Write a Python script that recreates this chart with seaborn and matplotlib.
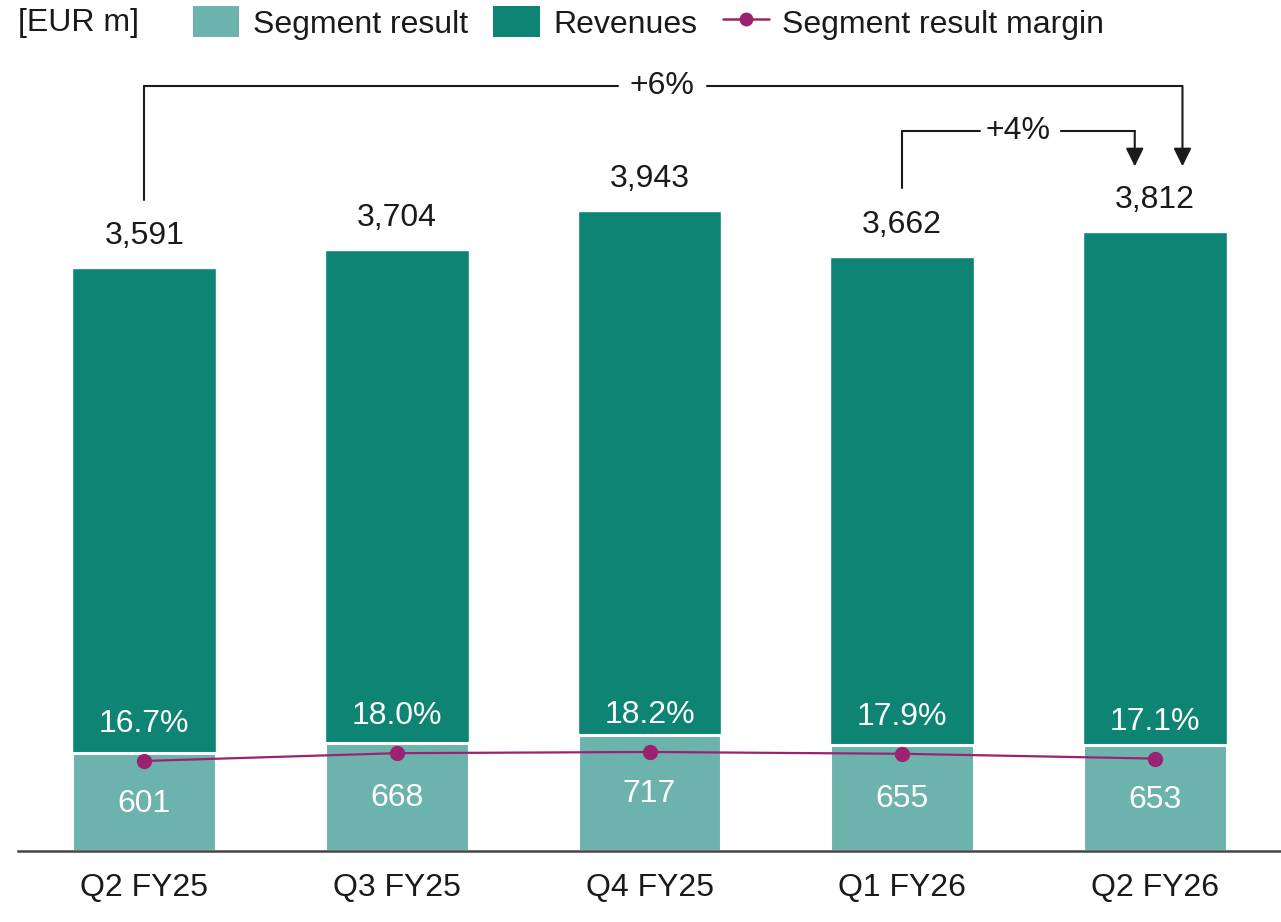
import numpy as np
import matplotlib
matplotlib.use("Agg")
import matplotlib.pyplot as plt
import seaborn as sns
from matplotlib.patches import Patch
from matplotlib.lines import Line2D

quarters = ["Q2 FY25", "Q3 FY25", "Q4 FY25", "Q1 FY26", "Q2 FY26"]
revenues = [3591, 3704, 3943, 3662, 3812]
segment_result = [601, 668, 717, 655, 653]
margin = [16.7, 18.0, 18.2, 17.9, 17.1]

C_REV = "#0e8475"
C_SEG = "#6db3ad"
C_MAR = "#9b2270"
C_TXT = "#1a1a1a"

sns.set_style("white")
plt.rcParams["font.family"] = ["Liberation Sans", "DejaVu Sans"]
FS = 23

fig = plt.figure(figsize=(12.81, 9.22), dpi=100)
ax = fig.add_axes([18 / 1281, 71 / 922, 1263 / 1281, 791 / 922])

x = np.arange(len(quarters))
sns.barplot(x=x, y=revenues, color=C_REV, saturation=1, width=0.57, ax=ax, native_scale=True)
sns.barplot(x=x, y=segment_result, color=C_SEG, saturation=1, width=0.57, ax=ax,
            native_scale=True, edgecolor="white", linewidth=2.2)

ax.set_xlim(-0.5, 4.5)
ax.set_ylim(0, 4874)
ax.set_xticks(x)
ax.set_xticklabels(quarters, fontsize=FS, color=C_TXT)
ax.tick_params(axis="x", length=0, pad=16)
ax.set_yticks([])
ax.set_xlabel("")
ax.set_ylabel("")
for s in ["top", "right", "left"]:
    ax.spines[s].set_visible(False)
ax.spines["bottom"].set_color("#444444")
ax.spines["bottom"].set_linewidth(1.8)

# revenue labels
for xi, r in zip(x, revenues):
    ax.annotate(f"{r:,}", (xi, r), xytext=(0, 23), textcoords="offset points",
                ha="center", va="center", fontsize=FS, color=C_TXT)
# segment labels
for xi, s in zip(x, segment_result):
    ax.text(xi, s / 2 - 10, f"{s}", ha="center", va="center", fontsize=FS, color="white")

# margin line on secondary axis
ax2 = ax.twinx()
sns.lineplot(x=x, y=margin, ax=ax2, color=C_MAR, linewidth=1.6, marker="o",
             markersize=11, markeredgewidth=0)
ax2.set_ylim(1.7, 133.5)
ax2.set_xlim(-0.5, 4.5)
ax2.axis("off")
for xi, m in zip(x, margin):
    ax2.annotate(f"{m:.1f}%", (xi, m), xytext=(0, 26.5), textcoords="offset points",
                 ha="center", va="center", fontsize=FS, color="white")

# growth brackets
px = 4874 / 791  # data units per pixel
lw = 1.5
arrow = dict(arrowstyle="-|>,head_length=0.55,head_width=0.27", mutation_scale=20,
             color=C_TXT, lw=lw, shrinkA=0, shrinkB=0)

# +6%: Q2 FY25 -> Q2 FY26
y6 = (851 - 86) * px
x0, x1 = x[0], x[4] + 0.11
ax.plot([x0, x0], [revenues[0] + 68 * px, y6], color=C_TXT, lw=lw, clip_on=False)
ax.plot([x0, 1.874], [y6, y6], color=C_TXT, lw=lw, clip_on=False)
ax.plot([2.227, x1], [y6, y6], color=C_TXT, lw=lw, clip_on=False)
ax.annotate("", xy=(x1, revenues[4] + 66 * px), xytext=(x1, y6), arrowprops=arrow)
ax.text(2.05, y6, "+6%", ha="center", va="center", fontsize=FS, color=C_TXT)

# +4%: Q1 FY26 -> Q2 FY26
y4 = (851 - 131) * px
x2, x3 = x[3], x[4] - 0.079
ax.plot([x2, x2], [revenues[3] + 69 * px, y4], color=C_TXT, lw=lw, clip_on=False)
ax.plot([x2, 3.307], [y4, y4], color=C_TXT, lw=lw, clip_on=False)
ax.plot([3.628, x3], [y4, y4], color=C_TXT, lw=lw, clip_on=False)
ax.annotate("", xy=(x3, revenues[4] + 66 * px), xytext=(x3, y4), arrowprops=arrow)
ax.text(3.46, y4, "+4%", ha="center", va="center", fontsize=FS, color=C_TXT)

# legend
fig.text(18 / 1281, 1 - 23 / 922, "[EUR m]", ha="left", va="center", fontsize=FS, color=C_TXT)
handles = [
    Patch(facecolor=C_SEG, edgecolor="none", label="Segment result"),
    Patch(facecolor=C_REV, edgecolor="none", label="Revenues"),
    Line2D([0], [0], color=C_MAR, lw=1.8, marker="o", markersize=10, markeredgewidth=0,
           label="Segment result margin"),
]
fig.legend(handles=handles, loc="center left", bbox_to_anchor=(193 / 1281, 1 - 23 / 922),
           ncol=3, frameon=False, fontsize=FS, handlelength=1.45, handleheight=1.1,
           handletextpad=0.42, columnspacing=0.8, borderpad=0, borderaxespad=0,
           labelcolor=C_TXT)

fig.savefig("out.png", dpi=100)
